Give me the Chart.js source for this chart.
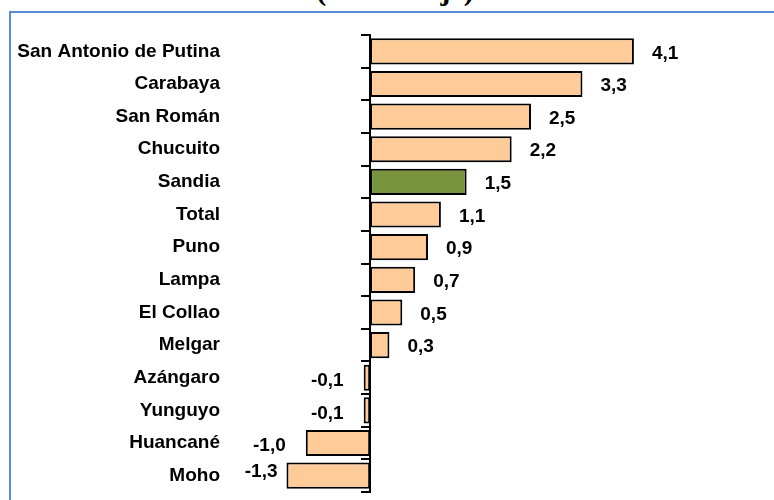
<!DOCTYPE html>
<html>
<head>
<meta charset="utf-8">
<script src="https://cdn.jsdelivr.net/npm/chart.js@4.4.0/dist/chart.umd.min.js"></script>
<style>
  html, body { margin: 0; padding: 0; background: #fff; overflow: hidden; }
  #wrap { position: relative; width: 774px; height: 500px; overflow: hidden; }
  #frame { position: absolute; left: 9px; top: 11px; width: 900px; height: 700px;
           border: 2px solid #5a8ad6; box-sizing: border-box; }
  #title { position: absolute; left: 0; width: 790px; top: -27px; text-align: center;
           font: bold 30px "Liberation Serif", "Times New Roman", serif; color: #000; }
  canvas { position: absolute; left: 0; top: 0; }
</style>
</head>
<body>
<div id="wrap">
  <div id="title">(Porcentaje)</div>
  <div id="frame"></div>
  <canvas id="myChart" width="774" height="500"></canvas>
</div>
<script>
const categories = ['San Antonio de Putina', 'Carabaya', 'San Román', 'Chucuito', 'Sandia', 'Total',
  'Puno', 'Lampa', 'El Collao', 'Melgar', 'Azángaro', 'Yunguyo', 'Huancané', 'Moho'];
const values = [4.1, 3.3, 2.5, 2.2, 1.5, 1.1, 0.9, 0.7, 0.5, 0.3, -0.1, -0.1, -1.0, -1.3];
const highlight = 'Sandia';

const labelFont = { family: '"Liberation Sans", Arial, sans-serif', size: 19, weight: 'bold' };

// number labels next to each bar, comma as decimal mark
const valueLabels = {
  id: 'valueLabels',
  afterDatasetsDraw(chart) {
    const ctx = chart.ctx;
    const meta = chart.getDatasetMeta(0);
    ctx.save();
    ctx.font = 'bold 19px "Liberation Sans", Arial, sans-serif';
    ctx.fillStyle = '#000';
    ctx.textBaseline = 'middle';
    meta.data.forEach((bar, i) => {
      const v = values[i];
      const txt = v.toFixed(1).replace('.', ',');
      if (v >= 0) {
        ctx.textAlign = 'left';
        ctx.fillText(txt, bar.x + 18, bar.y + 2);
      } else {
        // last label sits a bit higher and closer, like in the original
        const last = i === values.length - 1;
        ctx.textAlign = 'right';
        ctx.fillText(txt, bar.x - (last ? 9 : 20), bar.y + (last ? -4 : 3));
      }
    });
    ctx.restore();
  }
};

const ctx = document.getElementById('myChart').getContext('2d');

const chart = new Chart(ctx, {
  type: 'bar',
  data: {
    labels: categories,
    datasets: [{
      data: values,
      backgroundColor: categories.map(c => c === highlight ? '#77933c' : '#ffcc99'),
      borderColor: '#000',
      borderWidth: 2,
      borderSkipped: false,
      barPercentage: 0.8,
      categoryPercentage: 1
    }]
  },
  options: {
    indexAxis: 'y',
    responsive: false,
    animation: false,
    layout: { padding: { top: 35, bottom: 8, left: 0, right: 50 } },
    plugins: { legend: { display: false }, tooltip: { enabled: false } },
    scales: {
      x: { type: 'linear', min: -2.1, max: 5.5, display: false },
      y: {
        type: 'category',
        position: { x: 0 },
        offset: true,
        ticks: { display: false },
        grid: { offset: true, drawOnChartArea: false, drawTicks: true, tickLength: 8, color: '#000', lineWidth: 2 },
        border: { display: true, color: '#000', width: 2 },
        afterFit(s) { s.width = 0; }
      },
      y2: {
        type: 'category',
        position: 'left',
        offset: true,
        grid: { display: false, drawTicks: false },
        border: { display: false },
        ticks: { color: '#000', font: labelFont, padding: 15 },
        afterFit(s) { s.width = 235; s.paddingTop = 0; s.paddingBottom = 0; }
      }
    }
  },
  plugins: [valueLabels]
});
</script>
</body>
</html>
